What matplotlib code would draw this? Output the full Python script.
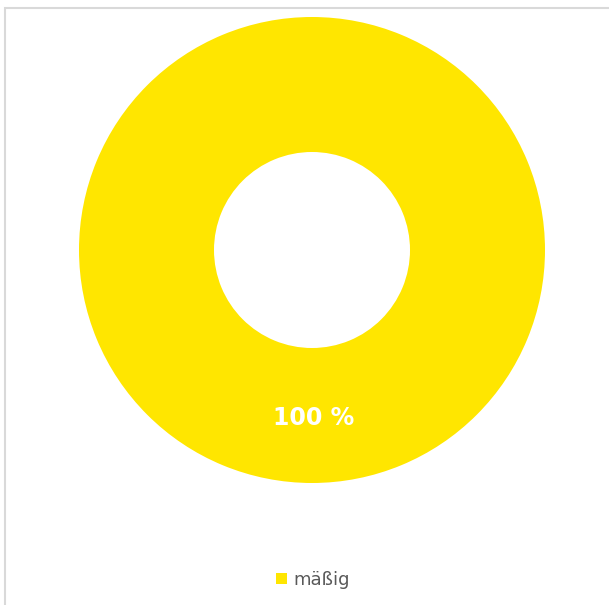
import matplotlib.pyplot as plt
from matplotlib.patches import Rectangle

categories = ["mäßig"]
values = [100]
colors = ["#FFE600"]

W, H = 609, 605
fig = plt.figure(figsize=(W / 100, H / 100), dpi=100)
ax = fig.add_axes([0, 0, 1, 1])
ax.set_xlim(0, W)
ax.set_ylim(0, H)
ax.set_aspect("equal")
ax.axis("off")

# light frame around the chart area
ax.add_patch(Rectangle((5, -10), W, H - 8 + 10, fill=False, edgecolor="#D9D9D9",
                       linewidth=1.5, clip_on=True))

outer, inner = 233, 98
wedges, _ = ax.pie(values, colors=colors, radius=outer, center=(312, H - 250),
                   startangle=90, counterclock=False,
                   wedgeprops=dict(width=outer - inner, edgecolor="none"))
ax.set_xlim(0, W)
ax.set_ylim(0, H)

for v in values:
    ax.text(314, H - 418, f"{v} %", color="white", fontsize=17, fontweight="bold",
            ha="center", va="center")

ax.legend(wedges, categories, loc="center", bbox_to_anchor=(313 / W, 1 - 580 / H),
          frameon=False, fontsize=13, labelcolor="#595959",
          handlelength=0.6, handleheight=0.6, handletextpad=0.35)

fig.savefig("out.png", dpi=100)
